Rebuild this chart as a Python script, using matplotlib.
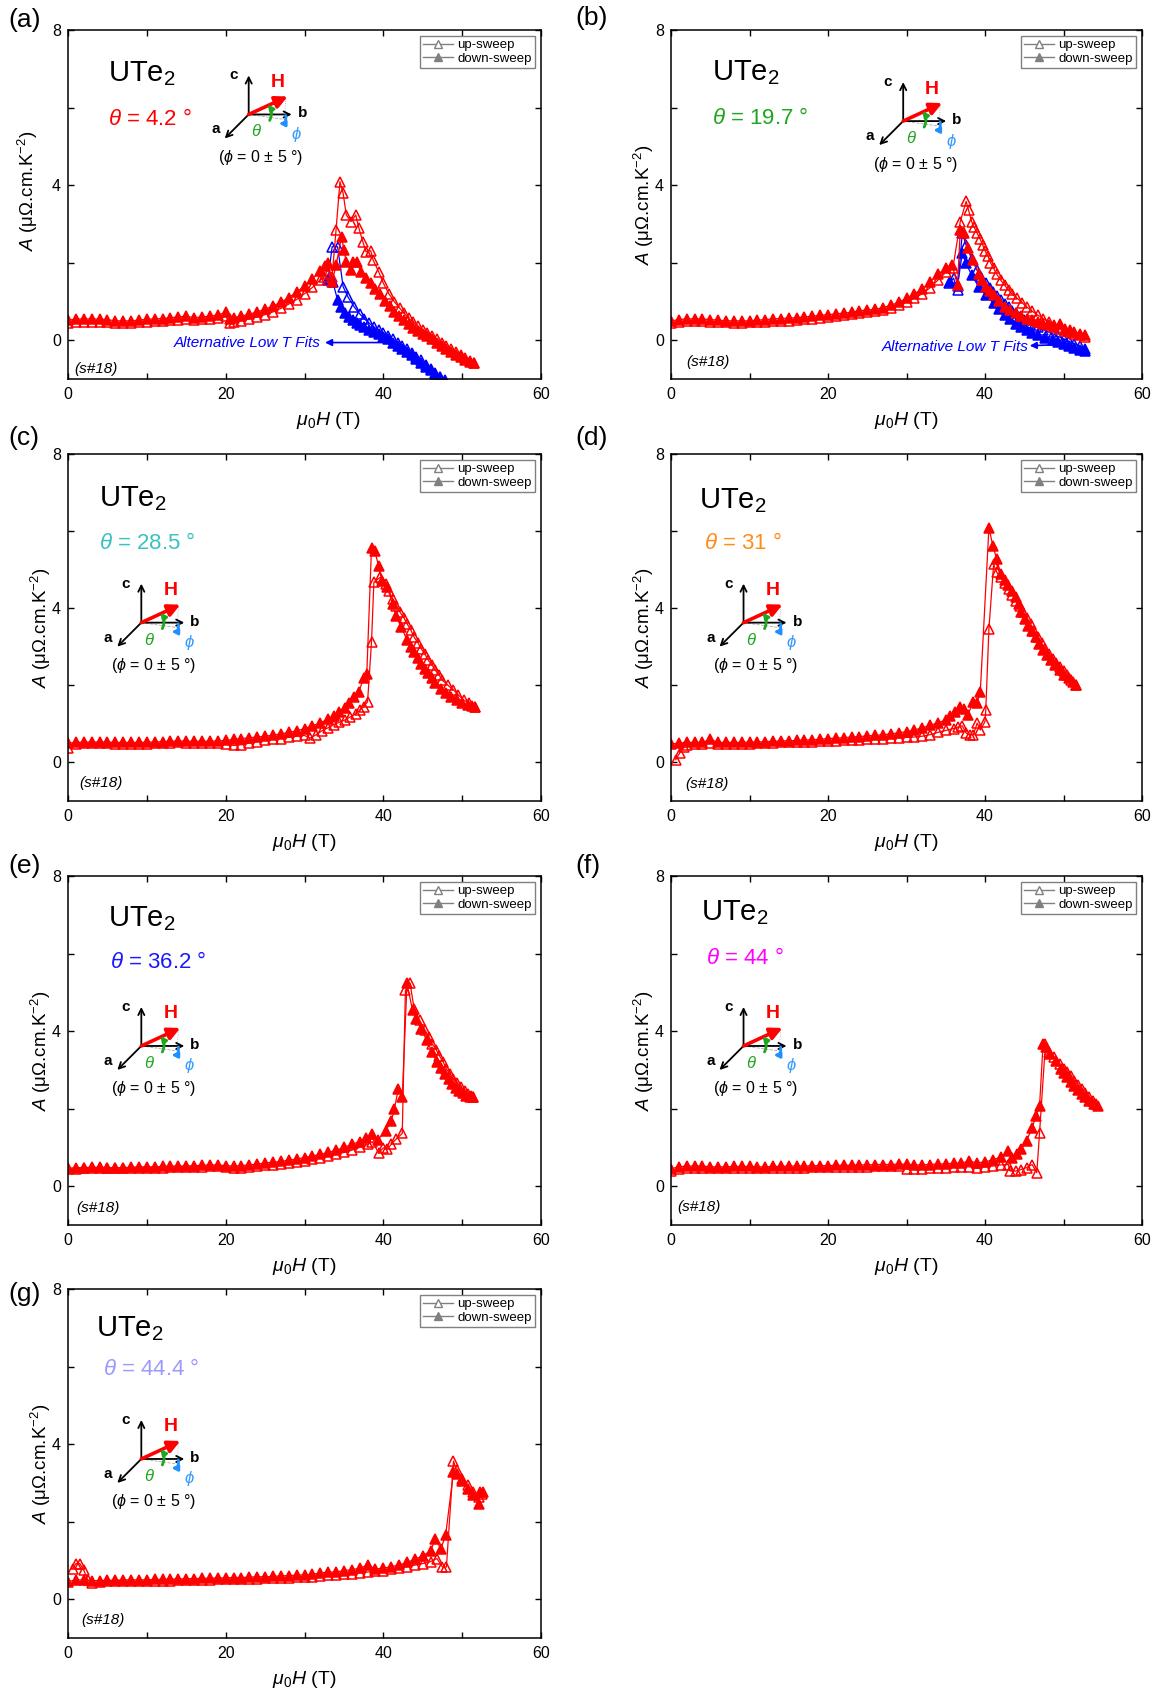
import matplotlib
matplotlib.use('Agg')
import matplotlib.pyplot as plt
from matplotlib.ticker import MultipleLocator
from matplotlib.lines import Line2D

plt.rcParams['font.family'] = ['Liberation Sans', 'DejaVu Sans']
plt.rcParams['mathtext.fontset'] = 'custom'
plt.rcParams['mathtext.rm'] = 'Liberation Sans'
plt.rcParams['mathtext.it'] = 'Liberation Sans:italic'
plt.rcParams['mathtext.bf'] = 'Liberation Sans:bold'

# ---------------- data: A coefficient vs field, sample s#18 ----------------
LOW = [0, 1, 2, 3, 4, 5, 6, 7, 8, 9, 10, 11, 12, 13, 14, 15, 16, 17, 18, 19, 20]

# (a) theta = 4.2
a_up_H = LOW + [20.5, 21, 22, 23, 24, 25, 26, 27, 28, 29, 30, 31, 32, 32.5, 33, 33.5,
                34.0, 34.5, 34.9, 35.3, 35.9, 36.5, 36.9, 37.4, 37.8, 38.4, 38.7, 39.4, 40.0, 40.7, 41.4, 42.1,
                42.6, 43.2, 43.8, 44.4, 45.0, 45.6, 46.2, 46.8, 47.4, 48.0, 48.6, 49.2, 49.8, 50.4, 51.0, 51.5]
a_up_A = [0.45, 0.47, 0.48, 0.48, 0.47, 0.46, 0.44, 0.44, 0.45, 0.46, 0.48, 0.49, 0.5, 0.51, 0.52, 0.54,
          0.52, 0.54, 0.55, 0.57, 0.62,
          0.45, 0.47, 0.5, 0.55, 0.6, 0.66, 0.73, 0.82, 0.93, 1.05, 1.2, 1.36, 1.55, 1.64, 1.7, 1.64,
          2.84, 4.09, 3.79, 3.23, 3.06, 3.23, 2.89, 2.54, 2.28, 2.31, 2.07, 1.77, 1.47, 1.2, 0.99, 0.82,
          0.7, 0.57, 0.46, 0.36, 0.27, 0.18, 0.1, 0.02, -0.07, -0.15, -0.23, -0.31, -0.39, -0.46, -0.53, -0.6]
a_dn_H = LOW + [20.5, 21, 22, 23, 24, 25, 26, 27, 28, 29, 30, 31, 32,
                32.6, 33.0, 33.5, 34.0, 34.7, 35.0, 35.3, 35.9, 36.2, 36.6,
                37.2, 37.8, 38.4, 39.0, 39.6, 40.2, 40.8, 41.4, 42.0, 42.6, 43.2, 43.8, 44.4, 45.0, 45.6,
                46.2, 46.8, 47.4, 48.0, 48.6, 49.2, 49.8, 50.4, 51.0, 51.5]
a_dn_A = [0.52, 0.54, 0.55, 0.55, 0.54, 0.53, 0.5, 0.5, 0.5, 0.52, 0.54, 0.55, 0.56, 0.58, 0.6, 0.62,
          0.58, 0.6, 0.62, 0.65, 0.72,
          0.55, 0.58, 0.62, 0.67, 0.73, 0.8, 0.88, 0.98, 1.1, 1.24, 1.4, 1.58, 1.78,
          1.92, 1.98, 1.5, 1.93, 2.67, 2.32, 2.02, 1.81, 2.02, 2.02,
          1.75, 1.6, 1.47, 1.32, 1.18, 1.02, 0.88, 0.74, 0.62, 0.51, 0.41, 0.31, 0.23, 0.16, 0.1,
          0.02, -0.07, -0.15, -0.23, -0.3, -0.38, -0.44, -0.5, -0.55, -0.6]
# (a) alternative low T fits
ab_up_H = [33.0, 33.5, 34.2, 34.9, 35.5, 36.3, 37.0, 37.6, 38.2, 38.8, 39.4, 40.0, 40.6, 41.2, 41.8,
           42.4, 43.0, 43.6, 44.2, 44.8, 45.4, 46.0, 46.6, 47.2, 47.8]
ab_up_A = [1.58, 2.41, 2.41, 1.38, 1.12, 0.86, 0.68, 0.55, 0.44, 0.34, 0.26, 0.18, 0.1, 0.02, -0.06,
           -0.14, -0.23, -0.32, -0.42, -0.52, -0.63, -0.74, -0.85, -0.96, -1.07]
ab_dn_H = [33.0, 33.6, 34.2, 34.6, 35.2, 35.6, 36.1, 36.6, 37.1, 37.6, 38.2, 38.8, 39.4, 40.0, 40.6,
           41.2, 41.8, 42.4, 43.0, 43.6, 44.2, 44.8, 45.4, 46.0, 46.6, 47.2, 47.8]
ab_dn_A = [1.55, 1.5, 1.03, 0.86, 0.69, 0.6, 0.52, 0.45, 0.39, 0.33, 0.27, 0.21, 0.15, 0.09, 0.02,
           -0.06, -0.14, -0.22, -0.3, -0.39, -0.49, -0.59, -0.69, -0.78, -0.86, -0.95, -1.03]

# (b) theta = 19.7
b_up_H = LOW + [21, 22, 23, 24, 25, 26, 27, 28, 29, 30, 31, 32, 33, 34, 35, 35.9,
                36.85, 37.6, 37.9, 38.3, 38.6, 39.0, 39.4, 39.7, 40.0, 40.4, 40.7, 41.1, 41.5, 42.0, 42.5,
                43.0, 43.5, 44.1, 44.7, 45.3, 46.0, 46.7, 47.4, 48.1, 48.8, 49.5, 50.2, 50.8, 51.4, 52.1, 52.8]
b_up_A = [0.44, 0.47, 0.5, 0.5, 0.49, 0.48, 0.47, 0.46, 0.45, 0.45, 0.46, 0.47, 0.48, 0.49, 0.5, 0.5,
          0.52, 0.54, 0.56, 0.58, 0.6,
          0.62, 0.64, 0.67, 0.7, 0.72, 0.75, 0.79, 0.84, 0.9, 0.98, 1.08, 1.2, 1.35, 1.55, 1.75, 1.85,
          3.06, 3.58, 3.36, 3.06, 2.92, 2.76, 2.6, 2.46, 2.31, 2.16, 2.0, 1.85, 1.7, 1.55, 1.42,
          1.29, 1.18, 1.08, 0.97, 0.86, 0.75, 0.65, 0.56, 0.47, 0.38, 0.3, 0.24, 0.2, 0.17, 0.13, 0.09]
b_dn_H = LOW + [21, 22, 23, 24, 25, 26, 27, 28, 29, 30, 31, 32, 33, 34, 35, 35.8, 36.5,
                36.85, 37.3, 37.8, 38.5, 39.2, 39.6, 40.1, 40.6, 41.1, 41.8, 42.5, 43.2, 43.9, 44.6, 45.3,
                46.0, 46.7, 47.4, 48.1, 48.8, 49.5, 50.2, 50.8, 51.4, 52.1, 52.8]
b_dn_A = [0.5, 0.53, 0.55, 0.55, 0.55, 0.53, 0.52, 0.5, 0.5, 0.5, 0.5, 0.52, 0.53, 0.55, 0.56, 0.57,
          0.58, 0.6, 0.62, 0.64, 0.66,
          0.68, 0.7, 0.72, 0.76, 0.78, 0.8, 0.84, 0.9, 0.98, 1.08, 1.2, 1.32, 1.5, 1.7, 1.85, 1.95, 1.42,
          2.84, 2.76, 2.37, 2.07, 1.72, 1.55, 1.38, 1.26, 1.16, 1.0, 0.86, 0.77, 0.69, 0.62, 0.56,
          0.51, 0.47, 0.43, 0.39, 0.35, 0.42, 0.3, 0.26, 0.22, 0.17, 0.13]
bb_up_H = [35.4, 36.0, 36.5, 37.1, 37.6, 38.3, 39.0, 39.5, 40.1, 40.6, 41.0, 41.5, 42.0, 42.5, 43.0,
           43.5, 43.9, 44.5, 45.0, 45.6, 46.2, 46.8, 47.4, 48.0, 48.6, 49.3, 50.0, 50.7, 51.4, 52.1, 52.8]
bb_up_A = [1.47, 1.6, 1.3, 2.76, 2.45, 2.1, 1.8, 1.62, 1.47, 1.35, 1.25, 1.14, 1.03, 0.94, 0.85,
           0.76, 0.69, 0.6, 0.52, 0.45, 0.39, 0.33, 0.27, 0.22, 0.17, 0.1, 0.04, -0.03, -0.09, -0.16, -0.22]
bb_dn_H = [35.5, 36.5, 37.1, 37.6, 38.3, 39.2, 40.1, 41.1, 41.8, 42.5, 43.2, 43.9, 44.6, 45.3, 46.0,
           46.7, 47.6, 48.6, 49.3, 50.0, 50.7, 51.4, 52.1, 52.8]
bb_dn_A = [1.5, 1.4, 2.24, 1.98, 1.68, 1.38, 1.16, 0.95, 0.8, 0.65, 0.54, 0.43, 0.34, 0.26, 0.19,
           0.13, 0.06, 0.0, -0.05, -0.09, -0.14, -0.19, -0.24, -0.28]

# (c) theta = 28.5
c_up_H = LOW + [21, 22, 23, 24, 25, 26, 27, 28, 29, 30, 30.7, 31.5, 32.2, 33, 33.7, 34.4, 35.1, 35.8,
                36.5, 37.0, 37.5, 38.0,
                38.5, 38.8, 39.6, 40.3, 40.7, 41.2, 41.6, 42.1, 42.6, 43.0, 43.5, 43.9, 44.4, 44.8, 45.3,
                45.7, 46.2, 46.6, 47.1, 47.5, 48.2, 48.9, 49.5, 50.2, 50.9, 51.6]
c_up_A = [0.38, 0.48, 0.5, 0.5, 0.5, 0.5, 0.49, 0.48, 0.48, 0.48, 0.49, 0.5, 0.5, 0.51, 0.52, 0.5,
          0.5, 0.5, 0.5, 0.5, 0.48,
          0.44, 0.46, 0.5, 0.54, 0.58, 0.6, 0.62, 0.65, 0.68, 0.7, 0.63, 0.72, 0.82, 0.9, 0.98, 1.04,
          1.1, 1.18, 1.26, 1.35, 1.45, 1.57,
          3.12, 4.67, 4.8, 4.63, 4.45, 4.24, 4.07, 3.9, 3.75, 3.6, 3.43, 3.25, 3.1, 2.95, 2.8,
          2.65, 2.52, 2.39, 2.26, 2.13, 2.0, 1.88, 1.75, 1.62, 1.53, 1.45]
c_dn_H = LOW + [21, 22, 23, 24, 25, 26, 27, 28, 29, 30, 31, 32, 33, 33.7, 34.4, 35.1, 35.7, 36.3,
                36.9, 37.5, 37.9,
                38.5, 38.9, 39.4, 39.8, 40.5, 41.2, 41.6, 42.3, 43.0, 43.5, 43.9, 44.4, 44.8, 45.3, 45.7,
                46.2, 46.6, 47.3, 48.0, 48.6, 49.3, 50.0, 50.7, 51.2, 51.6]
c_dn_A = [0.5, 0.52, 0.53, 0.53, 0.53, 0.53, 0.52, 0.52, 0.52, 0.52, 0.53, 0.53, 0.54, 0.55, 0.56,
          0.55, 0.55, 0.55, 0.55, 0.56, 0.57,
          0.6, 0.62, 0.64, 0.66, 0.68, 0.71, 0.74, 0.78, 0.82, 0.88, 0.95, 1.03, 1.12, 1.2, 1.3,
          1.42, 1.55, 1.7, 1.84, 2.18, 2.3,
          5.57, 5.49, 5.1, 4.71, 4.54, 4.1, 3.81, 3.51, 3.17, 3.0, 2.86, 2.7, 2.56, 2.43, 2.31,
          2.18, 2.05, 1.9, 1.79, 1.7, 1.62, 1.55, 1.49, 1.46, 1.43]

# (d) theta = 31
d_up_H = [0.6, 1.1, 1.6, 2, 3, 4, 5, 6, 7, 8, 9, 10, 11, 12, 13, 14, 15, 16, 17, 18, 19, 20,
          21, 22, 23, 24, 25, 26, 27, 28, 29, 30, 31, 32, 33, 34, 35, 36,
          36.6, 37.1, 37.6, 38.1, 38.5, 39.0, 39.4, 40.0, 40.1, 40.5,
          41.1, 41.5, 42.0, 42.5, 43.0, 43.5, 43.9, 44.4, 44.8, 45.3, 45.8, 46.2, 46.7, 47.2, 47.7,
          48.2, 48.6, 49.1, 49.5, 50.0, 50.5, 51.0, 51.6]
d_up_A = [0.07, 0.24, 0.41, 0.45, 0.47, 0.48, 0.5, 0.49, 0.48, 0.48, 0.48, 0.49, 0.5, 0.5, 0.51,
          0.52, 0.52, 0.53, 0.53, 0.54, 0.55, 0.55,
          0.56, 0.57, 0.58, 0.59, 0.6, 0.61, 0.62, 0.63, 0.64, 0.65, 0.66, 0.68, 0.72, 0.78, 0.83, 0.88,
          0.92, 0.95, 0.76, 0.72, 0.71, 1.02, 0.84, 1.06, 1.36, 3.47,
          5.14, 4.93, 4.8, 4.65, 4.5, 4.35, 4.2, 4.05, 3.9, 3.75, 3.6, 3.42, 3.25, 3.1, 2.95,
          2.82, 2.69, 2.58, 2.48, 2.37, 2.26, 2.13, 2.0]
d_dn_H = LOW + [21, 22, 23, 24, 25, 26, 27, 28, 29, 30, 31, 32, 33, 34, 35,
                35.6, 36.2, 36.85, 37.3, 37.8, 38.5, 39.0, 39.4, 40.5,
                41.0, 41.5, 42.0, 42.5, 42.96, 43.4, 43.9, 44.3, 44.6, 45.1, 45.5, 46.0, 46.5, 46.9,
                47.4, 47.9, 48.4, 48.9, 49.5, 50.1, 50.7, 51.2, 51.6]
d_dn_A = [0.48, 0.5, 0.52, 0.52, 0.52, 0.6, 0.52, 0.52, 0.52, 0.52, 0.53, 0.53, 0.54, 0.55, 0.56,
          0.56, 0.57, 0.58, 0.59, 0.6, 0.62,
          0.63, 0.64, 0.66, 0.67, 0.69, 0.7, 0.72, 0.74, 0.77, 0.8, 0.84, 0.9, 0.96, 1.03, 1.1,
          1.2, 1.3, 1.45, 1.38, 1.23, 1.57, 1.55, 1.83, 6.09,
          5.62, 5.27, 4.89, 4.74, 4.59, 4.44, 4.28, 4.1, 3.9, 3.72, 3.55, 3.4, 3.25, 3.08,
          2.91, 2.78, 2.65, 2.52, 2.39, 2.28, 2.18, 2.08, 2.0]

# (e) theta = 36.2
e_up_H = LOW + [21, 22, 23, 24, 25, 26, 27, 28, 29, 30, 31, 32, 33, 34, 35, 36, 37, 38,
                38.6, 39.4, 40.0, 40.5, 41.0, 41.6, 42.4,
                42.8, 43.4, 43.9, 44.6, 45.3, 45.8, 46.2, 46.7, 47.1, 47.6, 48.0, 48.5, 48.9, 49.4,
                49.8, 50.3, 50.7, 51.1, 51.4]
e_up_A = [0.44, 0.45, 0.46, 0.46, 0.46, 0.46, 0.47, 0.47, 0.47, 0.47, 0.48, 0.48, 0.48, 0.49, 0.5,
          0.5, 0.5, 0.5, 0.51, 0.52, 0.5,
          0.48, 0.48, 0.5, 0.52, 0.54, 0.56, 0.58, 0.6, 0.63, 0.66, 0.7, 0.73, 0.77, 0.82, 0.87,
          0.93, 1.0, 1.08,
          1.15, 0.86, 0.99, 0.96, 1.08, 1.21, 1.36,
          5.05, 5.23, 4.58, 4.28, 4.02, 3.85, 3.67, 3.52, 3.37, 3.2, 3.02, 2.89, 2.76, 2.65,
          2.55, 2.46, 2.38, 2.33, 2.29]
e_dn_H = LOW + [21, 22, 23, 24, 25, 26, 27, 28, 29, 30, 31, 32, 33, 34, 35, 36, 37,
                37.8, 38.5, 39.3, 40.3, 41.0, 41.4, 41.9, 42.4,
                43.0, 43.7, 44.1, 44.8, 45.5, 46.2, 46.8, 47.3, 47.8, 48.3, 48.7, 49.2, 49.6, 50.1,
                50.5, 51.0, 51.4]
e_dn_A = [0.46, 0.48, 0.48, 0.49, 0.49, 0.48, 0.48, 0.48, 0.49, 0.5, 0.5, 0.5, 0.51, 0.52, 0.52,
          0.52, 0.53, 0.54, 0.55, 0.55, 0.53,
          0.52, 0.53, 0.55, 0.57, 0.6, 0.62, 0.64, 0.67, 0.7, 0.74, 0.78, 0.82, 0.87, 0.93, 1.0,
          1.08, 1.15,
          1.25, 1.34, 1.2, 1.43, 1.68, 1.99, 2.51, 2.29,
          5.23, 4.54, 4.32, 4.06, 3.76, 3.46, 3.2, 3.04, 2.89, 2.76, 2.63, 2.54, 2.46, 2.4,
          2.33, 2.3, 2.29]

# (f) theta = 44
f_up_H = LOW + [21, 22, 23, 24, 25, 26, 27, 28, 29, 30, 31, 32, 33, 34, 35, 36, 37, 38, 39, 40,
                41, 42, 42.96, 43.2, 43.9, 44.6, 45.3, 46.0, 46.6, 46.95,
                47.7, 48.1, 48.8, 49.5, 50.0, 50.5, 51.0, 51.4, 51.9, 52.3, 52.8, 53.3, 53.8, 54.2]
f_up_A = [0.4, 0.45, 0.47, 0.48, 0.48, 0.47, 0.46, 0.46, 0.47, 0.47, 0.47, 0.46, 0.46, 0.47, 0.47,
          0.48, 0.48, 0.48, 0.49, 0.49, 0.49,
          0.5, 0.5, 0.5, 0.5, 0.5, 0.51, 0.51, 0.51, 0.52, 0.45, 0.44, 0.45, 0.46, 0.47, 0.48,
          0.49, 0.5, 0.5, 0.46, 0.5,
          0.52, 0.55, 0.56, 0.39, 0.39, 0.43, 0.48, 0.56, 0.35, 1.38,
          3.67, 3.46, 3.33, 3.15, 3.03, 2.94, 2.83, 2.72, 2.62, 2.51, 2.4, 2.29, 2.2, 2.12]
f_dn_H = LOW + [21, 22, 23, 24, 25, 26, 27, 28, 29, 30, 31, 32, 33, 34, 35, 36, 37, 38, 39, 40,
                41, 42, 42.96, 43.4, 44.1, 44.6, 45.3, 46.0, 46.5, 46.95,
                47.4, 47.8, 48.3, 49.0, 49.7, 50.1, 50.5, 51.0, 51.4, 51.9, 52.3, 52.8, 53.3, 53.9, 54.4]
f_dn_A = [0.45, 0.5, 0.52, 0.52, 0.52, 0.5, 0.5, 0.5, 0.51, 0.51, 0.51, 0.5, 0.5, 0.51, 0.51,
          0.52, 0.52, 0.52, 0.53, 0.53, 0.53,
          0.54, 0.54, 0.54, 0.55, 0.55, 0.56, 0.56, 0.56, 0.57, 0.57, 0.55, 0.55, 0.56, 0.57, 0.58,
          0.59, 0.6, 0.65, 0.6, 0.63,
          0.68, 0.75, 0.91, 0.73, 0.82, 0.95, 1.17, 1.51, 1.81, 2.07,
          3.67, 3.59, 3.41, 3.24, 3.02, 2.92, 2.81, 2.7, 2.59, 2.49, 2.38, 2.29, 2.2, 2.13, 2.07]

# (g) theta = 44.4
g_up_H = [0.6, 1.0, 1.5, 2.0, 2.5, 3, 4, 5, 6, 7, 8, 9, 10, 11, 12, 13, 14, 15, 16, 17, 18, 19, 20,
          21, 22, 23, 24, 25, 26, 27, 28, 29, 30, 31, 32, 33, 34, 35, 36, 37, 38, 39, 40,
          41, 42, 43, 44, 45, 46, 46.8, 47.5, 48.0,
          48.9, 49.3, 50.0, 50.7, 51.4, 52.1, 52.5]
g_up_A = [0.79, 0.92, 0.92, 0.75, 0.5, 0.42, 0.44, 0.46, 0.47, 0.47, 0.46, 0.46, 0.47, 0.47, 0.48,
          0.48, 0.49, 0.49, 0.5, 0.5, 0.5, 0.51, 0.51,
          0.52, 0.52, 0.53, 0.53, 0.54, 0.55, 0.56, 0.56, 0.57, 0.58, 0.58, 0.6, 0.62, 0.62, 0.65,
          0.66, 0.68, 0.7, 0.72, 0.74,
          0.77, 0.8, 0.84, 0.88, 0.92, 0.97, 1.05, 0.83, 0.83,
          3.56, 3.32, 3.11, 2.94, 2.76, 2.64, 2.72]
g_dn_H = LOW + [21, 22, 23, 24, 25, 26, 27, 28, 29, 30, 31, 32, 33, 34, 35, 36, 37, 38, 39, 40,
                41, 42, 43, 44, 45, 46, 46.6, 47.3, 47.9,
                48.9, 49.3, 50.0, 50.7, 51.4, 52.1, 52.3, 52.6]
g_dn_A = [0.45, 0.5, 0.5, 0.48, 0.48, 0.49, 0.49, 0.5, 0.5, 0.5, 0.5, 0.51, 0.51, 0.52, 0.52,
          0.53, 0.53, 0.54, 0.54, 0.55, 0.55,
          0.56, 0.56, 0.57, 0.58, 0.58, 0.59, 0.6, 0.61, 0.62, 0.63, 0.64, 0.68, 0.7, 0.7, 0.74,
          0.76, 0.8, 0.88, 0.78, 0.8,
          0.84, 0.88, 0.95, 1.03, 1.12, 1.25, 1.56, 1.3, 1.65,
          3.28, 3.24, 3.06, 2.85, 2.68, 2.46, 2.76, 2.76]

thetas = ['4.2', '19.7', '28.5', '31', '36.2', '44', '44.4']
theta_colors = ['#ff0000', '#1fa51f', '#3cc0c0', '#ff8c1a', '#1a1aff', '#ff00ff', '#9a9aff']
letters = ['(a)', '(b)', '(c)', '(d)', '(e)', '(f)', '(g)']

W, HT = 1159, 1693
fig = plt.figure(figsize=(W / 100, HT / 100), dpi=100)

rows = [(30, 379), (454, 801), (876, 1225), (1289, 1638)]
cols = [(68, 541), (671, 1142)]
RED, BLUE = '#ff0000', '#0000ff'


def make_axes(r, c):
    top, bot = rows[r]
    left, right = cols[c]
    return fig.add_axes([left / W, 1 - bot / HT, (right - left) / W, (bot - top) / HT])


def sweep(ax, H, A, col, filled):
    ax.plot(H, A, '-', color=col, lw=0.9, marker='^', ms=7, mew=1.1,
            mfc=col if filled else 'none', mec=col)


def sketch(ax, x0, y0):
    # little c/b/a frame with the field direction, drawn in pixel units
    pos = ax.get_position()
    wpx, hpx = pos.width * W, pos.height * HT
    ins = ax.inset_axes([x0 - 50 / wpx, y0 - 55 / hpx, 120 / wpx, 105 / hpx])
    ins.set_xlim(-50, 70)
    ins.set_ylim(-55, 50)
    ins.axis('off')
    ins.plot([0, 36], [0, -5], ls='--', color='#aaaaaa', lw=0.6)
    ins.plot([36, 37], [-5, 16], ls=':', color='#aaaaaa', lw=0.6)
    for tip in [(0, 39), (43, 0), (-24, -24)]:
        ins.annotate('', xy=tip, xytext=(0, 0),
                     arrowprops=dict(arrowstyle='->', color='k', lw=1.3,
                                     shrinkA=0, shrinkB=0, mutation_scale=11))
    ins.annotate('', xy=(39, 18), xytext=(0, 0),
                 arrowprops=dict(arrowstyle='-|>', color=RED, lw=2.6,
                                 shrinkA=0, shrinkB=0, mutation_scale=18))
    ins.annotate('', xy=(19, 10), xytext=(21, -6),
                 arrowprops=dict(arrowstyle='-|>', color='#1fa51f', lw=2.0,
                                 shrinkA=0, shrinkB=0, mutation_scale=8,
                                 connectionstyle='arc3,rad=0.3'))
    ins.annotate('', xy=(30, -9), xytext=(37, -1),
                 arrowprops=dict(arrowstyle='-|>', color='#1e90ff', lw=2.0,
                                 shrinkA=0, shrinkB=0, mutation_scale=8,
                                 connectionstyle='arc3,rad=-0.6'))
    ins.text(-11, 39, 'c', ha='right', va='center', fontsize=11, fontweight='bold')
    ins.text(29, 32, 'H', ha='center', va='center', fontsize=14, fontweight='bold', color=RED)
    ins.text(49, 1, 'b', ha='left', va='center', fontsize=11, fontweight='bold')
    ins.text(-29, -15, 'a', ha='right', va='center', fontsize=11, fontweight='bold')
    ins.text(8, -17, r'$\theta$', ha='center', va='center', fontsize=12, color='#1fa51f')
    ins.text(48, -20, r'$\phi$', ha='center', va='center', fontsize=12, color='#3399ff')
    ins.text(12, -43, r'($\phi$ = 0 $\pm$ 5 °)', ha='center', va='center', fontsize=11.5)


panels = [
    dict(rc=(0, 0), up=(a_up_H, a_up_A), dn=(a_dn_H, a_dn_A), blue=((ab_up_H, ab_up_A), (ab_dn_H, ab_dn_A)),
         ute=(0.085, 0.852), th=(0.085, 0.727), sk=(0.382, 0.758), s18=(0.014, 0.03), lab=(8, 20),
         xl=0.55, yl=(-0.06, 0.538)),
    dict(rc=(0, 1), up=(b_up_H, b_up_A), dn=(b_dn_H, b_dn_A), blue=((bb_up_H, bb_up_A), (bb_dn_H, bb_dn_A)),
         ute=(0.088, 0.857), th=(0.088, 0.732), sk=(0.493, 0.739), s18=(0.033, 0.048), lab=(575, 18),
         xl=0.5, yl=(-0.031, 0.5)),
    dict(rc=(1, 0), up=(c_up_H, c_up_A), dn=(c_dn_H, c_dn_A), blue=None,
         ute=(0.065, 0.849), th=(0.065, 0.727), sk=(0.155, 0.514), s18=(0.023, 0.053), lab=(8, 438),
         xl=0.5, yl=(-0.031, 0.5)),
    dict(rc=(1, 1), up=(d_up_H, d_up_A), dn=(d_dn_H, d_dn_A), blue=None,
         ute=(0.06, 0.845), th=(0.07, 0.727), sk=(0.154, 0.514), s18=(0.031, 0.05), lab=(575, 438),
         xl=0.5, yl=(-0.031, 0.5)),
    dict(rc=(2, 0), up=(e_up_H, e_up_A), dn=(e_dn_H, e_dn_A), blue=None,
         ute=(0.085, 0.857), th=(0.089, 0.735), sk=(0.155, 0.513), s18=(0.017, 0.048), lab=(8, 866),
         xl=0.5, yl=(-0.031, 0.5)),
    dict(rc=(2, 1), up=(f_up_H, f_up_A), dn=(f_dn_H, f_dn_A), blue=None,
         ute=(0.063, 0.873), th=(0.074, 0.749), sk=(0.154, 0.513), s18=(0.013, 0.051), lab=(575, 866),
         xl=0.5, yl=(-0.031, 0.5)),
    dict(rc=(3, 0), up=(g_up_H, g_up_A), dn=(g_dn_H, g_dn_A), blue=None,
         ute=(0.06, 0.866), th=(0.073, 0.753), sk=(0.155, 0.513), s18=(0.029, 0.053), lab=(8, 1294),
         xl=0.5, yl=(-0.031, 0.5)),
]

legend_handles = [
    Line2D([], [], color='#808080', lw=1, marker='^', ms=6, mfc='white', mec='#808080', mew=1),
    Line2D([], [], color='#808080', lw=1, marker='^', ms=6, mfc='#808080', mec='#808080', mew=1),
]

for i, p in enumerate(panels):
    ax = make_axes(*p['rc'])
    if p['blue'] is not None:
        sweep(ax, *p['blue'][0], BLUE, False)
        sweep(ax, *p['blue'][1], BLUE, True)
    sweep(ax, *p['up'], RED, False)
    sweep(ax, *p['dn'], RED, True)

    ax.set_xlim(0, 60)
    ax.set_ylim(-1, 8)
    ax.xaxis.set_major_locator(MultipleLocator(20))
    ax.xaxis.set_minor_locator(MultipleLocator(10))
    ax.yaxis.set_major_locator(MultipleLocator(4))
    ax.yaxis.set_minor_locator(MultipleLocator(2))
    ax.tick_params(which='both', direction='in', top=True, right=True, length=4, width=1,
                   labelsize=11.5)
    ax.tick_params(axis='x', pad=6)
    ax.tick_params(axis='y', pad=5)
    for sp in ax.spines.values():
        sp.set_linewidth(1.1)
    ax.set_xlabel(r'$\mu_{\rm 0}H$ (T)', fontsize=14)
    ax.xaxis.set_label_coords(p['xl'], -0.088)
    ax.set_ylabel(r'$A$ (μΩ.cm.K$^{-2}$)', fontsize=13.5)
    ax.yaxis.set_label_coords(*p['yl'])

    ax.legend(legend_handles, ['up-sweep', 'down-sweep'], loc='upper right', fontsize=9.5,
              frameon=True, fancybox=False, edgecolor='#808080', framealpha=1,
              handlelength=2.3, handletextpad=0.3, borderpad=0.25, labelspacing=0.1,
              borderaxespad=0.45)

    ax.text(*p['ute'], r'UTe$_{\rm 2}$', transform=ax.transAxes, fontsize=21, va='baseline')
    ax.text(*p['th'], r'$\theta$ = ' + thetas[i] + ' °', transform=ax.transAxes, fontsize=16,
            va='baseline', color=theta_colors[i])
    ax.text(*p['s18'], '(s#18)', transform=ax.transAxes, fontsize=11, style='italic',
            va='center')
    sketch(ax, *p['sk'])
    fig.text(p['lab'][0] / W, 1 - p['lab'][1] / HT, letters[i], fontsize=19, va='center')

    if i == 0:
        ax.annotate('', xy=(32.6, -0.06), xytext=(40.0, -0.06),
                    arrowprops=dict(arrowstyle='-|>', color=BLUE, lw=1.2, mutation_scale=10,
                                    shrinkA=0, shrinkB=0))
        ax.text(32.0, -0.06, 'Alternative Low T Fits', color=BLUE, style='italic',
                fontsize=11, ha='right', va='center')
    if i == 1:
        ax.annotate('', xy=(45.7, -0.14), xytext=(48.8, -0.12),
                    arrowprops=dict(arrowstyle='-|>', color=BLUE, lw=1.2, mutation_scale=10,
                                    shrinkA=0, shrinkB=0))
        ax.text(45.6, -0.17, 'Alternative Low T Fits', color=BLUE, style='italic',
                fontsize=11, ha='right', va='center')

fig.savefig('out.png', dpi=100)
